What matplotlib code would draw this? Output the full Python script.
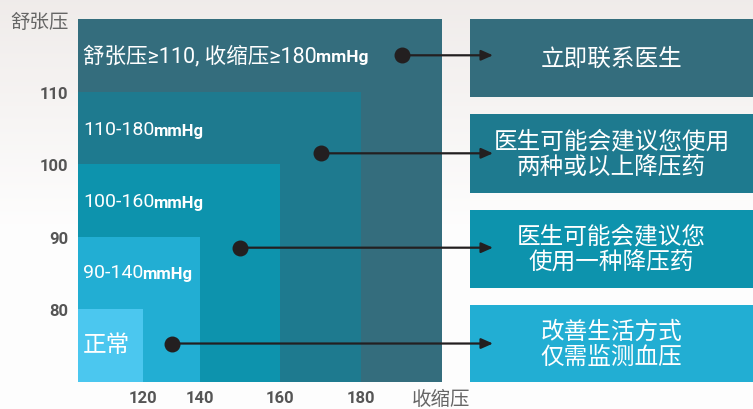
import numpy as np
import matplotlib.pyplot as plt

plt.rcParams['font.family'] = ['Noto Sans CJK SC', 'DejaVu Sans']
LATIN = ['Roboto', 'Noto Sans CJK SC', 'DejaVu Sans']

# 分级：收缩压上限 / 舒张压上限
systolic_upper = [200, 180, 160, 140, 120]
diastolic_upper = [120, 110, 100, 90, 80]
zone_labels = ['舒张压≥110, 收缩压≥180', '110-180', '100-160', '90-140', '正常']
zone_units = ['mmHg', 'mmHg', 'mmHg', 'mmHg', '']
zone_colors = ['#346d7d', '#1e7a8f', '#0d93ad', '#22aed3', '#4bc7ef']

# 圆点位置（收缩压, 舒张压）
dot_sys = [190, 170, 150, 130]
dot_dia = [115, 101.5, 88.5, 75.3]

advice = ['立即联系医生',
          '医生可能会建议您使用\n两种或以上降压药',
          '医生可能会建议您\n使用一种降压药',
          '改善生活方式\n仅需监测血压']
advice_top = [120, 106.9, 93.7, 80.6]
advice_bottom = [109.3, 96.1, 83.0, 69.9]

x_ticks = [120, 140, 160, 180]
y_ticks = [80, 90, 100, 110]

# 横轴刻度不等距，用分段线性刻度
sys_pts = [100, 120, 140, 160, 180, 200]
pos_pts = [0, 65, 122, 202, 283, 364]


def fwd(x):
    return np.interp(x, sys_pts, pos_pts)


def inv(p):
    return np.interp(p, pos_pts, sys_pts)


W, H = 753, 410
fig = plt.figure(figsize=(W / 100, H / 100), dpi=100)

# 背景渐变
bg = fig.add_axes([0, 0, 1, 1], zorder=-10)
grad = np.linspace(0, 1, 256).reshape(-1, 1)
top_c = np.array([0.94, 0.925, 0.918])
bot_c = np.array([0.995, 0.993, 0.993])
img = top_c + (bot_c - top_c) * np.clip(grad * 1.8, 0, 1)[..., None]
bg.imshow(img.reshape(256, 1, 3), aspect='auto', extent=[0, 1, 0, 1])
bg.axis('off')

ax = fig.add_axes([78 / W, 1 - 383 / H, 364 / W, 363 / H])
ax.set_xscale('function', functions=(fwd, inv))
ax.set_xlim(100, 200)
ax.set_ylim(70, 120)

for s, d, c in zip(systolic_upper, diastolic_upper, zone_colors):
    ax.bar(100, d - 70, width=s - 100, bottom=70, align='edge', color=c, linewidth=0)

label_y = [115, 104.9, 94.9, 85.1, 75.2]
for i, (lab, unit, yy) in enumerate(zip(zone_labels, zone_units, label_y)):
    if lab == '正常':
        ax.text(101.5, yy, lab, color='white', fontsize=17, va='center', ha='left')
        continue
    fs, ufs = (15.5, 12.5) if i == 0 else (14, 12)
    t = ax.text(101.5, yy, lab, color='white', fontsize=fs, va='center', ha='left',
                family=LATIN)
    ax.annotate(unit, xy=(1, 0.5), xycoords=t, va='center', ha='left',
                color='white', fontsize=ufs, fontweight='bold', family=LATIN,
                xytext=(-0.5, -1), textcoords='offset points')

ax.scatter(dot_sys, dot_dia, s=110, color='#231f20', zorder=5)
for xs, yd in zip(dot_sys, dot_dia):
    ax.annotate('', xy=(493 / W, yd), xycoords=('figure fraction', 'data'),
                xytext=(xs, yd), textcoords='data', annotation_clip=False,
                arrowprops=dict(arrowstyle='-|>,head_length=0.5,head_width=0.22',
                                color='#231f20', lw=1.6,
                                mutation_scale=14, shrinkA=0, shrinkB=0))

ax.set_xticks(x_ticks)
ax.set_xticklabels([str(v) for v in x_ticks])
ax.set_yticks(y_ticks)
ax.set_yticklabels([str(v) for v in y_ticks])
ax.tick_params(length=0, labelsize=12, labelcolor='#555555')
ax.tick_params(axis='y', pad=7)
ax.tick_params(axis='x', pad=6)
for lbl in ax.get_xticklabels() + ax.get_yticklabels():
    lbl.set_fontweight('bold')
    lbl.set_family(LATIN)
for sp in ax.spines.values():
    sp.set_visible(False)

fig.text(10 / W, 1 - 23 / H, '舒张压', fontsize=14, color='#666666', va='center', ha='left')
fig.text(441 / W, 1 - 400 / H, '收缩压', fontsize=14, color='#666666', va='center', ha='center')

# 右侧建议框
ax2 = fig.add_axes([470 / W, 1 - 383 / H, (W - 470) / W, 363 / H], zorder=-1)
ax2.set_xlim(0, 1)
ax2.set_ylim(70, 120)
ax2.axis('off')
for txt, t0, b0, c in zip(advice, advice_top, advice_bottom, zone_colors):
    ax2.bar(0, t0 - b0, width=1, bottom=b0, align='edge', color=c, linewidth=0)
    ax2.text(0.5, (t0 + b0) / 2, txt, color='white', fontsize=17, ha='center',
             va='center', linespacing=1.15)

fig.savefig('out.png', dpi=100)
